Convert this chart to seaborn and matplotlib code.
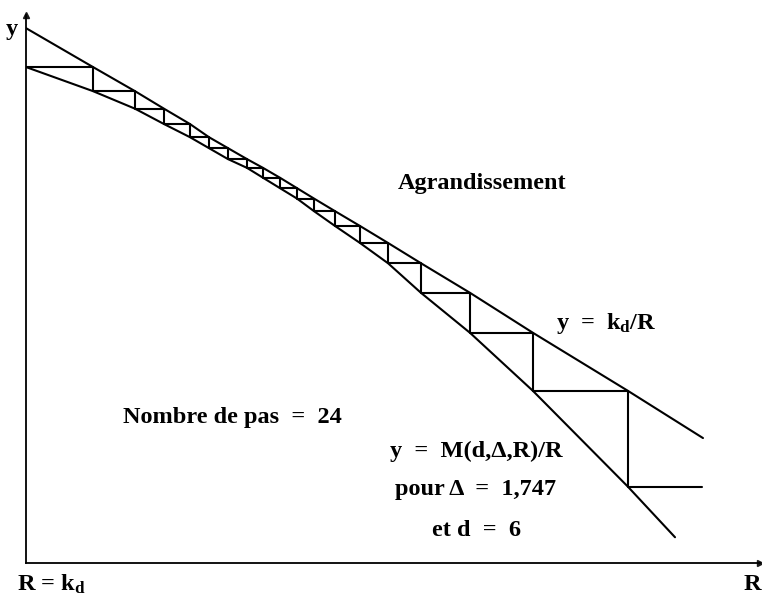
import matplotlib
matplotlib.use("Agg")
import matplotlib.pyplot as plt
import seaborn as sns
import pandas as pd

# Values (R and y in arbitrary units, axes span 0..100)
upper_R = [0, 9.13, 14.85, 18.80, 22.34, 24.93, 27.52, 30.11, 32.29, 34.60, 36.92,
           39.24, 42.10, 45.50, 49.32, 53.81, 60.49, 69.07, 82.02, 92.23]
upper_y = [97.6, 90.5, 86.1, 82.9, 80.1, 77.7, 75.7, 73.7, 72.1, 70.3, 68.4,
           66.5, 64.2, 61.5, 58.4, 54.7, 49.3, 42.0, 31.4, 22.8]

lower_R = [0, 9.13, 14.85, 18.80, 22.34, 24.93, 27.52, 30.11, 32.29, 34.60, 36.92,
           39.24, 42.10, 45.50, 49.32, 53.81, 60.49, 69.07, 82.02, 88.42]
lower_y = [90.5, 86.1, 82.9, 80.1, 77.7, 75.7, 73.7, 72.1, 70.3, 68.4, 66.5,
           64.2, 61.5, 58.4, 54.7, 49.3, 42.0, 31.4, 13.9, 4.7]

# staircase: vertical step positions and horizontal levels
step_R = [9.13, 14.85, 18.80, 22.34, 24.93, 27.52, 30.11, 32.29, 34.60, 36.92,
          39.24, 42.10, 45.50, 49.32, 53.81, 60.49, 69.07, 82.02]
step_level = [90.5, 86.1, 82.9, 80.1, 77.7, 75.7, 73.7, 72.1, 70.3, 68.4, 66.5,
              64.2, 61.5, 58.4, 54.7, 49.3, 42.0, 31.4, 13.9]
step_end_R = 92.1

# build the staircase path
sx, sy = [0], [step_level[0]]
for i, r in enumerate(step_R):
    sx += [r, r]
    sy += [step_level[i], step_level[i + 1]]
sx.append(step_end_R)
sy.append(step_level[-1])
stairs = pd.DataFrame({"R": sx, "y": sy})

sns.set_theme(style="white")
plt.rcParams['font.family'] = ['Liberation Serif', 'DejaVu Serif']
plt.rcParams['mathtext.default'] = 'regular'

fig = plt.figure(figsize=(7.62, 5.99), dpi=100)
ax = fig.add_axes([0.0341, 0.0601, 0.9633, 0.9149])

lw = 1.5
sns.lineplot(x=upper_R, y=upper_y, color="black", lw=lw, ax=ax, sort=False, estimator=None)
sns.lineplot(x=lower_R, y=lower_y, color="black", lw=lw, ax=ax, sort=False, estimator=None)
sns.lineplot(data=stairs, x="R", y="y", color="black", lw=lw, ax=ax, sort=False, estimator=None)

ax.set_xlim(0, 100)
ax.set_ylim(0, 100)
ax.set_xticks([])
ax.set_yticks([])
ax.set_xlabel("")
ax.set_ylabel("")
for s in ["top", "right"]:
    ax.spines[s].set_visible(False)
for s in ["left", "bottom"]:
    ax.spines[s].set_color("black")
    ax.spines[s].set_linewidth(1.3)

# arrow heads
ax.plot(1, 0, ">k", ms=5, transform=ax.transAxes, clip_on=False)
ax.plot(0, 1, "^k", ms=5, transform=ax.transAxes, clip_on=False)

tk = dict(fontsize=17.5, fontweight="bold", color="black", ha="center", va="center")
eq = "  =  "
fig.text(12 / 762, 1 - 30 / 599, "y", **tk)
fig.text(482 / 762, 1 - 183 / 599, "Agrandissement", **tk)
fig.text(606 / 762, 1 - 323 / 599, "y" + eq + r"k$_{d}$/R", **tk)
fig.text(232 / 762, 1 - 418 / 599, "Nombre de pas" + eq + "24", **tk)
fig.text(476 / 762, 1 - 451 / 599, "y" + eq + "M(d,Δ,R)/R", **tk)
fig.text(476 / 762, 1 - 490 / 599, "pour Δ" + eq + "1,747", **tk)
fig.text(476 / 762, 1 - 530 / 599, "et d" + eq + "6", **tk)
fig.text(17 / 762, 1 - 584 / 599, r"R = k$_{d}$", fontsize=17.5, fontweight="bold",
         color="black", ha="left", va="center")
fig.text(752 / 762, 1 - 584 / 599, "R", **tk)

fig.savefig("out.png", dpi=100, facecolor="white")
